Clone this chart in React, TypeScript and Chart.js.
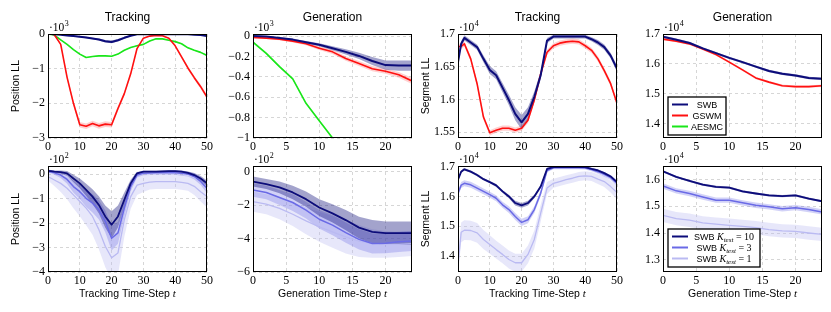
import React, { useEffect, useRef } from 'react';
import { Chart, registerables } from 'chart.js';

Chart.register(...registerables);

// ---------------- data ----------------
const TRACK_X = [0, 1, 2, 4, 6, 8, 10, 12, 14, 16, 18, 20, 22, 24, 26, 28, 30, 32, 34, 36, 38, 40, 42, 44, 46, 48, 50];
const GEN_X = [0, 2, 4, 6, 8, 10, 12, 14, 16, 18, 20, 22, 24];
const TRACK_TICKS = [0, 10, 20, 30, 40, 50];
const GEN_TICKS = [0, 5, 10, 15, 20];

// Panel 1: Tracking, Position LL (x10^3)
const C1_SWB = [0, 0, -0.01, -0.02, -0.04, -0.06, -0.08, -0.10, -0.13, -0.16, -0.21, -0.23, -0.18, -0.11, -0.05, -0.01, -0.01, -0.01, -0.01, -0.01, -0.01, -0.01, -0.01, -0.01, -0.02, -0.03, -0.06];
const C1_SWB_SD = [0.01, 0.01, 0.01, 0.01, 0.015, 0.02, 0.02, 0.02, 0.025, 0.03, 0.035, 0.04, 0.035, 0.03, 0.02, 0.01, 0.01, 0.01, 0.01, 0.01, 0.01, 0.01, 0.01, 0.01, 0.01, 0.015, 0.02];
const C1_GSWM = [0, 0, -0.02, -0.3, -1.25, -2.0, -2.62, -2.66, -2.58, -2.65, -2.6, -2.62, -2.15, -1.72, -1.15, -0.42, -0.12, -0.06, -0.04, -0.05, -0.12, -0.34, -0.66, -0.98, -1.26, -1.52, -1.82];
const C1_GSWM_SD = [0.01, 0.01, 0.02, 0.04, 0.06, 0.07, 0.08, 0.08, 0.08, 0.08, 0.08, 0.08, 0.07, 0.06, 0.05, 0.03, 0.02, 0.02, 0.02, 0.02, 0.02, 0.03, 0.04, 0.05, 0.05, 0.06, 0.06];
const C1_AESMC = [0, -0.01, -0.03, -0.17, -0.3, -0.45, -0.58, -0.68, -0.65, -0.63, -0.63, -0.64, -0.58, -0.47, -0.39, -0.34, -0.3, -0.2, -0.14, -0.14, -0.18, -0.22, -0.28, -0.4, -0.47, -0.53, -0.62];
const C1_AESMC_SD = [0.01, 0.01, 0.01, 0.015, 0.015, 0.015, 0.015, 0.015, 0.015, 0.015, 0.015, 0.015, 0.015, 0.015, 0.015, 0.015, 0.015, 0.015, 0.015, 0.015, 0.015, 0.015, 0.015, 0.015, 0.015, 0.015, 0.015];
const C1_YTICKS = [0, -1, -2, -3];

// Panel 2: Generation, Position LL (x10^3)
const C2_SWB = [0, -0.005, -0.02, -0.035, -0.06, -0.085, -0.12, -0.155, -0.195, -0.245, -0.285, -0.29, -0.29];
const C2_SWB_SD = [0.005, 0.006, 0.008, 0.01, 0.012, 0.015, 0.02, 0.025, 0.03, 0.04, 0.045, 0.05, 0.05];
const C2_GSWM = [-0.015, -0.02, -0.03, -0.05, -0.075, -0.12, -0.155, -0.22, -0.27, -0.32, -0.345, -0.38, -0.44];
const C2_GSWM_SD = [0.01, 0.01, 0.012, 0.014, 0.016, 0.018, 0.02, 0.022, 0.025, 0.025, 0.025, 0.028, 0.03];
const C2_AESMC = [-0.06, -0.17, -0.3, -0.42, -0.66, -0.83, -1.0, -1.17, null, null, null, null, null];
const C2_AESMC_SD = [0.01, 0.01, 0.01, 0.01, 0.01, 0.01, 0.01, 0.01, 0.01, 0.01, 0.01, 0.01, 0.01];
const C2_YTICKS = [0, -0.2, -0.4, -0.6, -0.8, -1];

// Panel 3: Tracking, Segment LL (x10^4)
const C3_SWB = [1.657, 1.685, 1.694, 1.687, 1.68, 1.662, 1.645, 1.637, 1.618, 1.599, 1.578, 1.565, 1.578, 1.604, 1.637, 1.69, 1.696, 1.696, 1.696, 1.696, 1.696, 1.696, 1.692, 1.687, 1.68, 1.667, 1.647];
const C3_SWB_SD = [0.004, 0.004, 0.004, 0.004, 0.004, 0.005, 0.006, 0.006, 0.007, 0.008, 0.01, 0.011, 0.01, 0.008, 0.006, 0.004, 0.003, 0.003, 0.003, 0.003, 0.003, 0.003, 0.003, 0.004, 0.004, 0.004, 0.005];
const C3_GSWM = [1.681, 1.681, 1.685, 1.662, 1.624, 1.573, 1.549, 1.553, 1.556, 1.556, 1.553, 1.556, 1.568, 1.599, 1.639, 1.672, 1.682, 1.686, 1.688, 1.689, 1.688, 1.682, 1.675, 1.662, 1.644, 1.624, 1.594];
const C3_GSWM_SD = [0.004, 0.004, 0.004, 0.004, 0.004, 0.004, 0.004, 0.004, 0.004, 0.004, 0.004, 0.004, 0.004, 0.004, 0.004, 0.004, 0.004, 0.004, 0.004, 0.004, 0.004, 0.004, 0.004, 0.004, 0.004, 0.004, 0.004];
const C3_YTICKS = [1.7, 1.65, 1.6, 1.55];

// Panel 4: Generation, Segment LL (x10^4)
const C4_SWB = [1.691, 1.681, 1.67, 1.652, 1.636, 1.62, 1.606, 1.591, 1.576, 1.567, 1.561, 1.553, 1.55];
const C4_SWB_SD = [0.004, 0.004, 0.004, 0.004, 0.004, 0.004, 0.004, 0.004, 0.004, 0.004, 0.004, 0.004, 0.004];
const C4_GSWM = [1.683, 1.676, 1.667, 1.65, 1.631, 1.606, 1.58, 1.553, 1.539, 1.527, 1.524, 1.524, 1.527];
const C4_GSWM_SD = [0.004, 0.004, 0.004, 0.004, 0.004, 0.004, 0.004, 0.004, 0.004, 0.004, 0.004, 0.004, 0.004];
const C4_YTICKS = [1.7, 1.6, 1.5, 1.4];

// Panel 5: Tracking, Position LL (x10^2), K_test variants
const C5_K10 = [0.13, 0.12, 0.1, 0.08, 0.03, -0.18, -0.38, -0.65, -0.92, -1.26, -1.73, -2.07, -1.73, -1.05, -0.38, 0.03, 0.1, 0.1, 0.1, 0.11, 0.12, 0.12, 0.1, 0.05, -0.04, -0.18, -0.38];
const C5_K10_SD = [0.05, 0.05, 0.05, 0.07, 0.1, 0.15, 0.2, 0.25, 0.3, 0.35, 0.45, 0.55, 0.45, 0.3, 0.15, 0.05, 0.04, 0.04, 0.04, 0.04, 0.04, 0.04, 0.05, 0.06, 0.08, 0.1, 0.12];
const C5_K3 = [0.1, 0.08, 0.05, -0.04, -0.22, -0.51, -0.72, -0.99, -1.19, -1.46, -1.93, -2.62, -2.4, -1.39, -0.51, -0.04, 0.03, 0.04, 0.05, 0.05, 0.05, 0.05, 0.03, 0, -0.1, -0.3, -0.58];
const C5_K3_SD = [0.05, 0.06, 0.08, 0.12, 0.18, 0.25, 0.3, 0.35, 0.38, 0.4, 0.45, 0.5, 0.45, 0.35, 0.2, 0.1, 0.08, 0.08, 0.08, 0.08, 0.08, 0.08, 0.1, 0.1, 0.12, 0.15, 0.2];
const C5_K1 = [-0.11, -0.17, -0.24, -0.38, -0.58, -0.85, -1.12, -1.39, -1.73, -2.27, -2.95, -3.42, -3.22, -1.86, -0.92, -0.45, -0.38, -0.33, -0.31, -0.31, -0.31, -0.31, -0.34, -0.38, -0.5, -0.72, -0.92];
const C5_K1_SD = [0.15, 0.2, 0.25, 0.35, 0.45, 0.55, 0.6, 0.7, 0.75, 0.8, 0.85, 0.9, 0.9, 0.7, 0.5, 0.4, 0.35, 0.3, 0.3, 0.3, 0.3, 0.3, 0.3, 0.3, 0.35, 0.4, 0.45];
const C5_YTICKS = [0, -1, -2, -3, -4];

// Panel 6: Generation, Position LL (x10^2)
const C6_K10 = [-0.6, -0.75, -0.95, -1.25, -1.65, -2.15, -2.5, -2.9, -3.35, -3.6, -3.68, -3.68, -3.68];
const C6_K10_SD = [0.3, 0.3, 0.35, 0.4, 0.45, 0.5, 0.55, 0.6, 0.65, 0.7, 0.7, 0.7, 0.7];
const C6_K3 = [-1.1, -1.25, -1.55, -1.85, -2.3, -2.85, -3.2, -3.65, -4.05, -4.3, -4.28, -4.2, -4.15];
const C6_K3_SD = [0.4, 0.4, 0.45, 0.5, 0.5, 0.55, 0.6, 0.6, 0.6, 0.6, 0.6, 0.6, 0.6];
const C6_K1 = [-1.8, -1.95, -2.2, -2.55, -2.95, -3.3, -3.6, -3.9, -4.15, -4.3, -4.35, -4.35, -4.3];
const C6_K1_SD = [0.6, 0.6, 0.65, 0.7, 0.8, 0.9, 0.95, 1.0, 0.95, 0.85, 0.8, 0.75, 0.75];
const C6_YTICKS = [0, -2, -4, -6];

// Panel 7: Tracking, Segment LL (x10^4)
const C7_K10 = [1.656, 1.683, 1.691, 1.683, 1.672, 1.658, 1.648, 1.637, 1.617, 1.6, 1.578, 1.57, 1.578, 1.6, 1.633, 1.692, 1.698, 1.698, 1.698, 1.698, 1.698, 1.698, 1.692, 1.687, 1.678, 1.667, 1.648];
const C7_K10_SD = [0.004, 0.004, 0.004, 0.004, 0.004, 0.004, 0.004, 0.005, 0.005, 0.006, 0.008, 0.008, 0.008, 0.006, 0.005, 0.004, 0.003, 0.003, 0.003, 0.003, 0.003, 0.003, 0.003, 0.004, 0.004, 0.004, 0.004];
const C7_K3 = [1.611, 1.638, 1.644, 1.639, 1.628, 1.617, 1.606, 1.594, 1.572, 1.556, 1.533, 1.513, 1.522, 1.556, 1.611, 1.687, 1.696, 1.696, 1.696, 1.696, 1.696, 1.695, 1.69, 1.683, 1.674, 1.663, 1.644];
const C7_K3_SD = [0.01, 0.01, 0.01, 0.01, 0.01, 0.01, 0.01, 0.01, 0.01, 0.011, 0.012, 0.012, 0.012, 0.011, 0.01, 0.006, 0.005, 0.005, 0.005, 0.005, 0.005, 0.005, 0.006, 0.007, 0.008, 0.008, 0.01];
const C7_K1 = [1.37, 1.48, 1.487, 1.486, 1.478, 1.456, 1.439, 1.422, 1.406, 1.389, 1.378, 1.378, 1.406, 1.456, 1.544, 1.628, 1.644, 1.65, 1.656, 1.661, 1.667, 1.669, 1.667, 1.658, 1.65, 1.633, 1.613];
const C7_K1_SD = [0.03, 0.033, 0.033, 0.033, 0.033, 0.032, 0.031, 0.03, 0.03, 0.03, 0.03, 0.03, 0.03, 0.03, 0.028, 0.02, 0.015, 0.015, 0.015, 0.015, 0.015, 0.015, 0.015, 0.016, 0.018, 0.02, 0.022];
const C7_YTICKS = [1.7, 1.6, 1.5, 1.4];

// Panel 8: Generation, Segment LL (x10^4)
const C8_K10 = [1.631, 1.61, 1.595, 1.581, 1.573, 1.57, 1.556, 1.548, 1.541, 1.538, 1.541, 1.529, 1.519];
const C8_K10_SD = [0.004, 0.004, 0.004, 0.004, 0.004, 0.004, 0.004, 0.004, 0.004, 0.004, 0.004, 0.004, 0.004];
const C8_K3 = [1.576, 1.558, 1.548, 1.535, 1.523, 1.523, 1.513, 1.504, 1.498, 1.491, 1.495, 1.488, 1.479];
const C8_K3_SD = [0.01, 0.01, 0.01, 0.01, 0.01, 0.01, 0.01, 0.01, 0.01, 0.01, 0.01, 0.01, 0.01];
const C8_K1 = [1.466, 1.454, 1.448, 1.438, 1.433, 1.429, 1.425, 1.42, 1.413, 1.408, 1.406, 1.4, 1.395];
const C8_K1_SD = [0.025, 0.025, 0.025, 0.025, 0.025, 0.025, 0.025, 0.025, 0.025, 0.025, 0.025, 0.025, 0.025];
const C8_YTICKS = [1.6, 1.5, 1.4, 1.3];

// ---------------- styles ----------------
const NAVY = '#0c0c7a';
const NAVY_BAND = 'rgba(12,12,122,0.38)';
const RED = '#ff1010';
const RED_BAND = 'rgba(255,40,40,0.22)';
const GREEN = '#19e619';
const GREEN_BAND = 'rgba(25,230,25,0.25)';
const MID = '#6a6ae6';
const MID_BAND = 'rgba(106,106,230,0.3)';
const LIGHT = '#babaf2';
const LIGHT_BAND = 'rgba(186,186,242,0.35)';

const SERIF = 'Liberation Serif';
const SANS = 'Liberation Sans';

const COL_LEFT = [48, 253, 458, 663];
const PLOT_W = 159;
const ROW_TOP = [34, 166];
const ROW_H = [104, 106];
const PAD_L = 46;
const PAD_T = 34;
const PAD_R = 8;
const PAD_B = 38;

type Series = { mean: (number | null)[]; sd: number[]; line: string; band: string; width: number };
type Piece = { t: string; f: string; dy?: number };
type LegendItem = { color: string; width: number; label: Piece[] };
type Panel = {
  col: number; row: number; xs: number[]; xMax: number; xTicks: number[];
  yMin: number; yMax: number; yTicks: number[]; exp: string;
  title?: string; yTitle?: string; xTitle?: string; series: Series[];
  legend?: { w: number; items: LegendItem[] };
};

const sw = (n: string): Piece[] => [{ t: n, f: `9px ${SANS}` }];
const kLabel = (k: string): Piece[] => [
  { t: 'SWB ', f: `9px ${SANS}` },
  { t: 'K', f: `italic 10px ${SERIF}` },
  { t: 'test', f: `italic 7px ${SERIF}`, dy: 2 },
  { t: ' = ' + k, f: `10px ${SERIF}` },
];

const LEGEND_TOP = {
  w: 58,
  items: [
    { color: NAVY, width: 2, label: sw('SWB') },
    { color: RED, width: 2, label: sw('GSWM') },
    { color: GREEN, width: 2, label: sw('AESMC') },
  ],
};
const LEGEND_BOTTOM = {
  w: 92,
  items: [
    { color: NAVY, width: 2, label: kLabel('10') },
    { color: MID, width: 2, label: kLabel('3') },
    { color: LIGHT, width: 2, label: kLabel('1') },
  ],
};

const PANELS: Panel[] = [
  { col: 0, row: 0, xs: TRACK_X, xMax: 50, xTicks: TRACK_TICKS, yMin: -3, yMax: 0, yTicks: C1_YTICKS, exp: '3', title: 'Tracking', yTitle: 'Position LL',
    series: [
      { mean: C1_SWB, sd: C1_SWB_SD, line: NAVY, band: NAVY_BAND, width: 2 },
      { mean: C1_GSWM, sd: C1_GSWM_SD, line: RED, band: RED_BAND, width: 1.6 },
      { mean: C1_AESMC, sd: C1_AESMC_SD, line: GREEN, band: GREEN_BAND, width: 1.6 },
    ] },
  { col: 1, row: 0, xs: GEN_X, xMax: 24, xTicks: GEN_TICKS, yMin: -1, yMax: 0.02, yTicks: C2_YTICKS, exp: '3', title: 'Generation',
    series: [
      { mean: C2_SWB, sd: C2_SWB_SD, line: NAVY, band: NAVY_BAND, width: 2 },
      { mean: C2_GSWM, sd: C2_GSWM_SD, line: RED, band: RED_BAND, width: 1.6 },
      { mean: C2_AESMC, sd: C2_AESMC_SD, line: GREEN, band: GREEN_BAND, width: 1.6 },
    ] },
  { col: 2, row: 0, xs: TRACK_X, xMax: 50, xTicks: TRACK_TICKS, yMin: 1.541, yMax: 1.7, yTicks: C3_YTICKS, exp: '4', title: 'Tracking', yTitle: 'Segment LL',
    series: [
      { mean: C3_SWB, sd: C3_SWB_SD, line: NAVY, band: NAVY_BAND, width: 2 },
      { mean: C3_GSWM, sd: C3_GSWM_SD, line: RED, band: RED_BAND, width: 1.6 },
    ] },
  { col: 3, row: 0, xs: GEN_X, xMax: 24, xTicks: GEN_TICKS, yMin: 1.352, yMax: 1.7, yTicks: C4_YTICKS, exp: '4', title: 'Generation', legend: LEGEND_TOP,
    series: [
      { mean: C4_SWB, sd: C4_SWB_SD, line: NAVY, band: NAVY_BAND, width: 2 },
      { mean: C4_GSWM, sd: C4_GSWM_SD, line: RED, band: RED_BAND, width: 1.6 },
    ] },
  { col: 0, row: 1, xs: TRACK_X, xMax: 50, xTicks: TRACK_TICKS, yMin: -4, yMax: 0.33, yTicks: C5_YTICKS, exp: '2', yTitle: 'Position LL', xTitle: 'Tracking Time-Step ',
    series: [
      { mean: C5_K10, sd: C5_K10_SD, line: NAVY, band: NAVY_BAND, width: 1.8 },
      { mean: C5_K3, sd: C5_K3_SD, line: MID, band: MID_BAND, width: 1.5 },
      { mean: C5_K1, sd: C5_K1_SD, line: LIGHT, band: LIGHT_BAND, width: 1.3 },
    ] },
  { col: 1, row: 1, xs: GEN_X, xMax: 24, xTicks: GEN_TICKS, yMin: -6, yMax: 0.33, yTicks: C6_YTICKS, exp: '2', xTitle: 'Generation Time-Step ',
    series: [
      { mean: C6_K10, sd: C6_K10_SD, line: NAVY, band: NAVY_BAND, width: 1.8 },
      { mean: C6_K3, sd: C6_K3_SD, line: MID, band: MID_BAND, width: 1.5 },
      { mean: C6_K1, sd: C6_K1_SD, line: LIGHT, band: LIGHT_BAND, width: 1.3 },
    ] },
  { col: 2, row: 1, xs: TRACK_X, xMax: 50, xTicks: TRACK_TICKS, yMin: 1.347, yMax: 1.702, yTicks: C7_YTICKS, exp: '4', yTitle: 'Segment LL', xTitle: 'Tracking Time-Step ',
    series: [
      { mean: C7_K10, sd: C7_K10_SD, line: NAVY, band: NAVY_BAND, width: 1.8 },
      { mean: C7_K3, sd: C7_K3_SD, line: MID, band: MID_BAND, width: 1.5 },
      { mean: C7_K1, sd: C7_K1_SD, line: LIGHT, band: LIGHT_BAND, width: 1.3 },
    ] },
  { col: 3, row: 1, xs: GEN_X, xMax: 24, xTicks: GEN_TICKS, yMin: 1.254, yMax: 1.651, yTicks: C8_YTICKS, exp: '4', xTitle: 'Generation Time-Step ', legend: LEGEND_BOTTOM,
    series: [
      { mean: C8_K10, sd: C8_K10_SD, line: NAVY, band: NAVY_BAND, width: 1.8 },
      { mean: C8_K3, sd: C8_K3_SD, line: MID, band: MID_BAND, width: 1.5 },
      { mean: C8_K1, sd: C8_K1_SD, line: LIGHT, band: LIGHT_BAND, width: 1.3 },
    ] },
];

const fmt = (v: number) => (v < 0 ? '\u2212' + String(Math.abs(v)) : String(v));

function drawPieces(ctx: CanvasRenderingContext2D, pieces: Piece[], cx: number, baseline: number) {
  let total = 0;
  for (const p of pieces) { ctx.font = p.f; total += ctx.measureText(p.t).width; }
  let x = cx - total / 2;
  ctx.textAlign = 'left';
  ctx.textBaseline = 'alphabetic';
  for (const p of pieces) {
    ctx.font = p.f;
    ctx.fillText(p.t, x, baseline + (p.dy || 0));
    x += ctx.measureText(p.t).width;
  }
}

function makeDeco(p: Panel) {
  return {
    id: 'deco',
    afterDraw(chart: any) {
      const ctx: CanvasRenderingContext2D = chart.ctx;
      const a = chart.chartArea;
      ctx.save();
      ctx.fillStyle = '#000';
      ctx.strokeStyle = '#000';
      ctx.lineWidth = 1;
      ctx.strokeRect(a.left + 0.5, a.top + 0.5, a.right - a.left - 1, a.bottom - a.top - 1);
      // exponent label
      ctx.textAlign = 'left';
      ctx.textBaseline = 'alphabetic';
      ctx.font = `11.5px ${SERIF}`;
      ctx.fillText('\u00b710', a.left + 1, a.top - 3.5);
      const w = ctx.measureText('\u00b710').width;
      ctx.font = `8px ${SERIF}`;
      ctx.fillText(p.exp, a.left + 1 + w + 0.5, a.top - 8.5);
      // title
      if (p.title) {
        ctx.font = `12px ${SANS}`;
        ctx.textAlign = 'center';
        ctx.fillText(p.title, (a.left + a.right) / 2, a.top - 13);
      }
      // y title
      if (p.yTitle) {
        ctx.save();
        ctx.translate(a.left - 32, (a.top + a.bottom) / 2);
        ctx.rotate(-Math.PI / 2);
        ctx.font = `10.5px ${SANS}`;
        ctx.textAlign = 'center';
        ctx.textBaseline = 'middle';
        ctx.fillText(p.yTitle, 0, 0);
        ctx.restore();
      }
      // x title
      if (p.xTitle) {
        drawPieces(ctx, [{ t: p.xTitle, f: `10.5px ${SANS}` }, { t: 't', f: `italic 11px ${SERIF}` }], (a.left + a.right) / 2, a.bottom + 25);
      }
      // legend
      if (p.legend) {
        const lx = a.left + 5;
        const ly = a.top + 63;
        const lw = p.legend.w;
        const lh = 38;
        ctx.fillStyle = '#fff';
        ctx.fillRect(lx, ly, lw, lh);
        ctx.strokeStyle = '#000';
        ctx.lineWidth = 1.3;
        ctx.strokeRect(lx, ly, lw, lh);
        p.legend.items.forEach((it, i) => {
          const cy = ly + 7.5 + 11 * i;
          ctx.strokeStyle = it.color;
          ctx.lineWidth = it.width;
          ctx.beginPath();
          ctx.moveTo(lx + 4, cy);
          ctx.lineTo(lx + 20, cy);
          ctx.stroke();
          ctx.fillStyle = '#000';
          drawPieces(ctx, it.label, (lx + 22 + lx + lw - 2) / 2, cy + 3.2);
        });
      }
      ctx.restore();
    },
  };
}

function buildDatasets(p: Panel) {
  const ds: any[] = [];
  p.series.forEach((s, k) => {
    const up = p.xs.map((x, j) => ({ x, y: s.mean[j] == null ? null : (s.mean[j] as number) + s.sd[j] }));
    const lo = p.xs.map((x, j) => ({ x, y: s.mean[j] == null ? null : (s.mean[j] as number) - s.sd[j] }));
    ds.push({ data: up, borderWidth: 0, pointRadius: 0, fill: false, order: 100 + k, borderColor: 'rgba(0,0,0,0)' });
    ds.push({ data: lo, borderWidth: 0, pointRadius: 0, fill: ds.length - 1, backgroundColor: s.band, order: 100 + k, borderColor: 'rgba(0,0,0,0)' });
  });
  p.series.forEach((s, k) => {
    ds.push({
      data: p.xs.map((x, j) => ({ x, y: s.mean[j] })),
      borderColor: s.line, borderWidth: s.width, pointRadius: 0, fill: false, order: k, tension: 0,
      borderJoinStyle: 'round', borderCapStyle: 'round',
    });
  });
  return ds;
}

function PanelChart({ p }: { p: Panel }) {
  const ref = useRef<HTMLCanvasElement | null>(null);
  const left = COL_LEFT[p.col] - PAD_L;
  const top = ROW_TOP[p.row] - PAD_T;
  const width = PAD_L + PLOT_W + PAD_R;
  const height = PAD_T + ROW_H[p.row] + PAD_B;
  useEffect(() => {
    if (!ref.current) return;
    const tickFont = { family: SERIF, size: 12 };
    const gridOpts = { color: '#d6d6d6', lineWidth: 1, drawTicks: false };
    const chart = new Chart(ref.current, {
      type: 'line',
      data: { datasets: buildDatasets(p) },
      options: {
        responsive: false,
        animation: false,
        devicePixelRatio: 1,
        layout: { padding: { left: 0, top: PAD_T, right: PAD_R, bottom: 0 } },
        plugins: { legend: { display: false }, tooltip: { enabled: false }, title: { display: false } },
        scales: {
          x: {
            type: 'linear', min: 0, max: p.xMax,
            afterBuildTicks: (s: any) => { s.ticks = p.xTicks.map((v) => ({ value: v })); },
            afterFit: (s: any) => { s.height = PAD_B; },
            ticks: { font: tickFont, color: '#000', padding: 2, maxRotation: 0, autoSkip: false, callback: (v: any) => fmt(Number(v)) },
            grid: gridOpts,
            border: { display: false, dash: [3, 3] },
          },
          y: {
            type: 'linear', min: p.yMin, max: p.yMax,
            afterBuildTicks: (s: any) => { s.ticks = p.yTicks.map((v) => ({ value: v })); },
            afterFit: (s: any) => { s.width = PAD_L; },
            ticks: { font: tickFont, color: '#000', padding: 3, autoSkip: false, callback: (v: any) => fmt(Number(v)) },
            grid: gridOpts,
            border: { display: false, dash: [3, 3] },
          },
        },
      } as any,
      plugins: [makeDeco(p)],
    });
    return () => chart.destroy();
  }, []);
  return (
    <canvas
      ref={ref}
      width={width}
      height={height}
      style={{ position: 'absolute', left, top, width, height }}
    />
  );
}

export default function App() {
  return (
    <div style={{ position: 'absolute', left: 0, top: 0, width: 831, height: 312, overflow: 'hidden', background: '#fff' }}>
      {PANELS.map((p, i) => (
        <PanelChart key={i} p={p} />
      ))}
    </div>
  );
}
